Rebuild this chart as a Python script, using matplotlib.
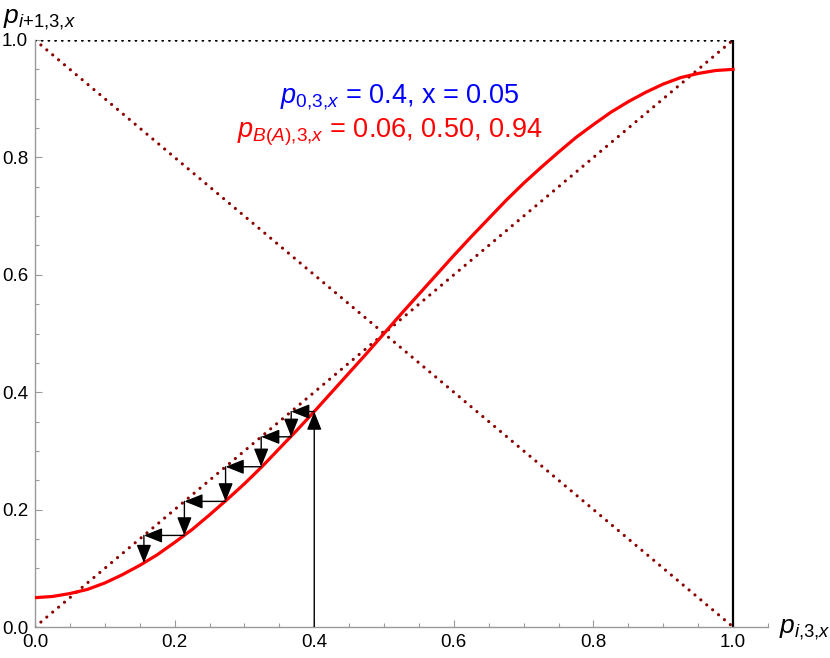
import matplotlib
matplotlib.use("Agg")
import matplotlib.pyplot as plt
from matplotlib.ticker import MultipleLocator
from matplotlib.patches import FancyArrowPatch

plt.rcParams['font.family'] = ['Liberation Sans', 'DejaVu Sans']
plt.rcParams['mathtext.fontset'] = 'custom'
plt.rcParams['mathtext.rm'] = 'Liberation Sans'
plt.rcParams['mathtext.it'] = 'Liberation Sans:italic'
plt.rcParams['mathtext.bf'] = 'Liberation Sans:bold'

# curve p_{i+1} vs p_i
p_in = [0.000, 0.025, 0.050, 0.075, 0.100, 0.125, 0.150, 0.175, 0.200, 0.225,
        0.250, 0.275, 0.300, 0.325, 0.350, 0.375, 0.400, 0.425, 0.450, 0.475,
        0.500, 0.525, 0.550, 0.575, 0.600, 0.625, 0.650, 0.675, 0.700, 0.725,
        0.750, 0.775, 0.800, 0.825, 0.850, 0.875, 0.900, 0.925, 0.950, 0.975, 1.000]
p_out = [0.050, 0.052, 0.057, 0.064, 0.075, 0.089, 0.105, 0.123, 0.144, 0.166,
         0.191, 0.217, 0.244, 0.273, 0.304, 0.335, 0.367, 0.400, 0.433, 0.466,
         0.500, 0.534, 0.567, 0.600, 0.633, 0.665, 0.696, 0.727, 0.756, 0.783,
         0.809, 0.834, 0.856, 0.877, 0.895, 0.911, 0.925, 0.936, 0.943, 0.948, 0.950]

# cobweb iterates
iterates = [0.400, 0.367, 0.324, 0.273, 0.214, 0.156, 0.109]

fig = plt.figure(figsize=(8.3, 6.58), dpi=100)
ax = fig.add_axes([35/830, 1-627/658, (768-35)/830, (627-40)/658])
ax.set_xlim(0, 1.05)
ax.set_ylim(0, 1.0)

dots = (0, (0.01, 2.4))
# reference lines
ax.plot([0, 1], [0, 1], color='#8B0000', ls=dots, lw=2.3, dash_capstyle='round')
ax.plot([0, 1], [1, 0], color='#8B0000', ls=dots, lw=2.3, dash_capstyle='round')
ax.plot([0, 1], [1, 1], color='black', ls=dots, lw=2.0, dash_capstyle='round')
ax.plot([1, 1], [0, 1], color='black', lw=1.6)

# map curve
ax.plot(p_in, p_out, color='#FF0000', lw=2.3, zorder=3, solid_joinstyle='round')

# cobweb arrows
def arrow(x0, y0, x1, y1):
    a = FancyArrowPatch((x0, y0), (x1, y1),
                        arrowstyle='-|>,head_length=0.75,head_width=0.3',
                        mutation_scale=15, color='black', lw=1.0,
                        shrinkA=0, shrinkB=0, zorder=4)
    ax.add_patch(a)

arrow(iterates[0], 0.0, iterates[0], iterates[1])
for k in range(1, len(iterates) - 1):
    arrow(iterates[k - 1], iterates[k], iterates[k], iterates[k])
    arrow(iterates[k], iterates[k], iterates[k], iterates[k + 1])

# spines / ticks
for s in ['top', 'right']:
    ax.spines[s].set_visible(False)
for s in ['left', 'bottom']:
    ax.spines[s].set_color('#999999')
    ax.spines[s].set_linewidth(1.0)
ax.xaxis.set_minor_locator(MultipleLocator(0.05))
ax.yaxis.set_minor_locator(MultipleLocator(0.05))
ax.set_xticks([0, 0.2, 0.4, 0.6, 0.8, 1.0])
ax.set_xticklabels(['0.0', '0.2', '0.4', '0.6', '0.8', '1.0'])
ax.set_yticks([0, 0.2, 0.4, 0.6, 0.8, 1.0])
ax.set_yticklabels(['0.0', '0.2', '0.4', '0.6', '0.8', '1.0'])
ax.tick_params(which='major', direction='in', length=5, width=0.8, color='#999999',
               labelsize=13.5, pad=5)
ax.tick_params(which='minor', direction='in', length=3, width=0.8, color='#999999')

# axis labels
fig.text(3/830, 1-20/658, r'$p_{i{+}1{,}3{,}x}$', fontsize=19, va='center', ha='left')
fig.text(779/830, 1-630/658, r'$p_{i{,}3{,}x}$', fontsize=19, va='center', ha='left')

# annotations
ax.text(0.523, 0.903, r'$p_{0{,}3{,}x}$ = 0.4, x = 0.05', color='#0000FF', fontsize=19.5,
        ha='center', va='center')
ax.text(0.508, 0.842, r'$p_{B(A){,}3{,}x}$ = 0.06, 0.50, 0.94', color='#FF0000', fontsize=19.5,
        ha='center', va='center')

fig.savefig('out.png', dpi=100)
